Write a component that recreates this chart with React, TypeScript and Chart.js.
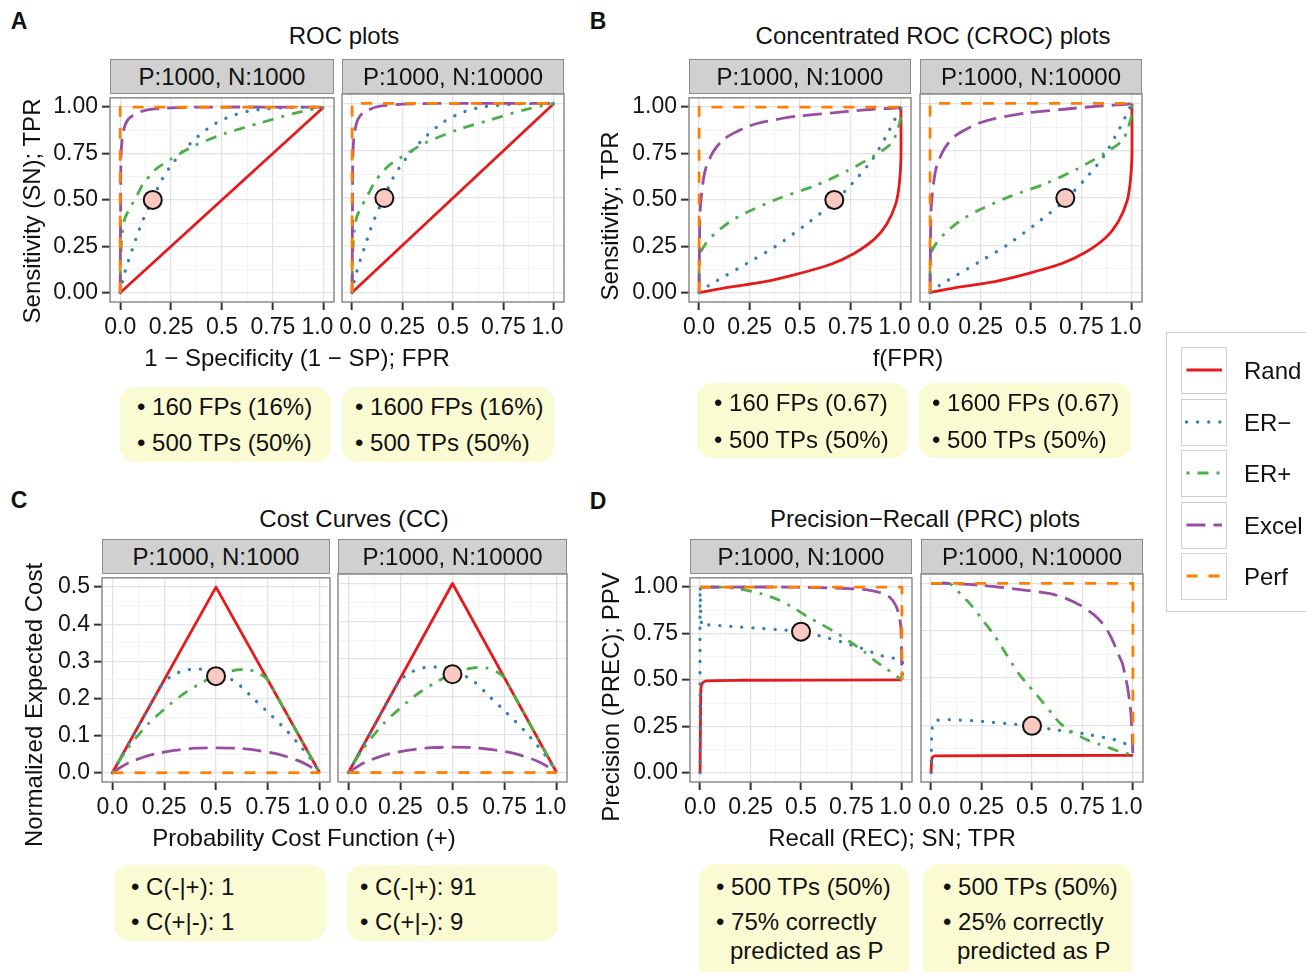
import React, { useEffect, useRef } from 'react';
import { Chart, registerables } from 'chart.js';

Chart.register(...registerables);

type Pt = [number, number];

const FONT = '"Liberation Sans", Arial, Helvetica, sans-serif';

// ---------------- series (legend) ----------------
const seriesNames = ['Rand', 'ER\u2212', 'ER+', 'Excel', 'Perf'];
const seriesColors = ['#e41a1c', '#377eb8', '#4daf4a', '#984ea3', '#ff7f00'];
const seriesDash: number[][] = [[], [0.1, 11], [3, 8, 11, 8], [19, 8], [11, 11]];

// ---------------- ticks ----------------
const unitTicks = [0, 0.25, 0.5, 0.75, 1];
const unitMinor = [0.125, 0.375, 0.625, 0.875];
const xTickLabelsLeft = ['0.0', '0.25', '0.5', '0.75', '1.0  '];
const xTickLabelsRight = [' 0.0', '0.25', '0.5', '0.75', '1.0  '];
const yTickLabels = ['0.00', '0.25', '0.50', '0.75', '1.00'];
const costTicks = [0, 0.1, 0.2, 0.3, 0.4, 0.5];
const costMinor = [0.05, 0.15, 0.25, 0.35, 0.45];
const costTickLabels = ['0.0', '0.1', '0.2', '0.3', '0.4', '0.5'];

// ---------------- A: ROC ----------------
const rocRand: Pt[] = [[0, 0], [1, 1]];
const rocErMinus: Pt[] = [[0, 0], [0.015, 0.08], [0.04, 0.17], [0.065, 0.25], [0.09, 0.33], [0.115, 0.4], [0.14, 0.46], [0.17, 0.53], [0.2, 0.6], [0.24, 0.67], [0.29, 0.74], [0.36, 0.82], [0.45, 0.9], [0.54, 0.95], [0.64, 0.98], [0.8, 0.997], [1, 1]];
const rocErPlus: Pt[] = [[0, 0], [0.003, 0.2], [0.01, 0.32], [0.023, 0.4], [0.045, 0.45], [0.065, 0.49], [0.09, 0.54], [0.114, 0.59], [0.15, 0.635], [0.18, 0.67], [0.25, 0.72], [0.36, 0.79], [0.52, 0.86], [0.69, 0.915], [0.85, 0.965], [1, 1]];
const rocExcel: Pt[] = [[0, 0], [0.002, 0.45], [0.004, 0.73], [0.01, 0.83], [0.023, 0.9], [0.04, 0.935], [0.056, 0.95], [0.08, 0.965], [0.114, 0.98], [0.17, 0.99], [0.25, 0.996], [0.4, 1], [1, 1]];
const rocPerf: Pt[] = [[0, 0], [0, 1], [1, 1]];
const rocPoint: Pt = [0.16, 0.5];

// ---------------- B: CROC ----------------
const crocRand: Pt[] = [[0, 0], [0.15, 0.03], [0.32, 0.058], [0.48, 0.099], [0.65, 0.152], [0.77, 0.213], [0.87, 0.29], [0.93, 0.37], [0.975, 0.48], [0.992, 0.585], [1, 0.72], [1, 1]];
const crocErMinus: Pt[] = [[0, 0], [0.05, 0.04], [0.24, 0.16], [0.38, 0.25], [0.52, 0.36], [0.65, 0.47], [0.76, 0.59], [0.86, 0.72], [0.94, 0.87], [1, 1]];
const crocErPlus: Pt[] = [[0, 0], [0.003, 0.2], [0.03, 0.26], [0.08, 0.32], [0.15, 0.38], [0.23, 0.43], [0.4, 0.51], [0.57, 0.575], [0.73, 0.654], [0.87, 0.74], [0.95, 0.8], [0.975, 0.85], [1, 0.945], [1, 1]];
const crocExcel: Pt[] = [[0, 0], [0.005, 0.44], [0.02, 0.6], [0.033, 0.67], [0.06, 0.74], [0.083, 0.78], [0.12, 0.825], [0.167, 0.857], [0.24, 0.895], [0.32, 0.92], [0.48, 0.95], [0.65, 0.968], [0.82, 0.985], [0.97, 0.995], [1, 1]];
const crocPerf: Pt[] = [[0, 0], [0, 1], [1, 1]];
const crocPoint: Pt = [0.67, 0.5];

// ---------------- C: Cost curves ----------------
const ccRand: Pt[] = [[0, 0], [0.5, 0.5], [1, 0]];
const ccErMinus: Pt[] = [[0, 0], [0.1, 0.1], [0.2, 0.2], [0.25, 0.245], [0.3, 0.265], [0.35, 0.276], [0.42, 0.279], [0.5, 0.272], [0.6, 0.242], [0.68, 0.2], [0.76, 0.158], [0.84, 0.114], [0.91, 0.07], [0.96, 0.035], [1, 0]];
const ccErPlus: Pt[] = [[0, 0], [0.066, 0.06], [0.17, 0.13], [0.28, 0.185], [0.35, 0.215], [0.43, 0.242], [0.5, 0.262], [0.6, 0.277], [0.66, 0.277], [0.71, 0.267], [0.75, 0.25], [0.8, 0.2], [0.9, 0.1], [1, 0]];
const ccExcel: Pt[] = [[0, 0], [0.05, 0.018], [0.1, 0.032], [0.2, 0.05], [0.3, 0.06], [0.4, 0.066], [0.5, 0.067], [0.6, 0.066], [0.7, 0.06], [0.8, 0.05], [0.9, 0.032], [0.95, 0.018], [1, 0]];
const ccPerf: Pt[] = [[0, 0], [1, 0]];
const ccPoint: Pt = [0.5, 0.26];

// ---------------- D: PRC ----------------
const prcRandBal: Pt[] = [[0, 0], [0.002, 0.3], [0.004, 0.45], [0.01, 0.48], [0.03, 0.495], [0.2, 0.498], [1, 0.5]];
const prcErMinusBal: Pt[] = [[0, 0], [0, 1], [0.004, 0.85], [0.01, 0.79], [0.02, 0.8], [0.05, 0.795], [0.1, 0.792], [0.2, 0.785], [0.3, 0.778], [0.4, 0.77], [0.5, 0.76], [0.6, 0.735], [0.7, 0.705], [0.8, 0.67], [0.9, 0.63], [1, 0.6], [1, 0.5]];
const prcErPlusBal: Pt[] = [[0, 1], [0.1, 1], [0.195, 0.99], [0.3, 0.965], [0.39, 0.93], [0.46, 0.89], [0.533, 0.84], [0.6, 0.8], [0.675, 0.754], [0.75, 0.7], [0.817, 0.648], [0.87, 0.6], [0.923, 0.56], [1, 0.5]];
const prcExcelBal: Pt[] = [[0, 1], [0.46, 1], [0.7, 0.993], [0.82, 0.986], [0.9, 0.968], [0.94, 0.945], [0.97, 0.9], [0.985, 0.85], [0.995, 0.78], [1, 0.5]];
const prcPerfBal: Pt[] = [[0, 1], [1, 1], [1, 0.5]];
const prcPointBal: Pt = [0.5, 0.76];

const prcRandImb: Pt[] = [[0, 0], [0.002, 0.05], [0.006, 0.08], [0.02, 0.088], [1, 0.091]];
const prcErMinusImb: Pt[] = [[0, 0], [0, 0.016], [0.003, 0.19], [0.01, 0.26], [0.025, 0.275], [0.09, 0.28], [0.257, 0.27], [0.423, 0.254], [0.5, 0.247], [0.59, 0.23], [0.757, 0.205], [0.907, 0.174], [0.99, 0.14], [1, 0.13]];
const prcErPlusImb: Pt[] = [[0, 1], [0.09, 1], [0.15, 0.94], [0.207, 0.875], [0.26, 0.8], [0.307, 0.735], [0.35, 0.665], [0.39, 0.595], [0.43, 0.53], [0.473, 0.472], [0.52, 0.415], [0.557, 0.367], [0.6, 0.31], [0.64, 0.26], [0.69, 0.22], [0.74, 0.19], [0.79, 0.165], [0.84, 0.147], [0.89, 0.128], [0.932, 0.112], [1, 0.091]];
const prcExcelImb: Pt[] = [[0, 1], [0.09, 1], [0.25, 0.99], [0.42, 0.97], [0.59, 0.946], [0.67, 0.92], [0.74, 0.884], [0.8, 0.84], [0.84, 0.8], [0.88, 0.74], [0.907, 0.68], [0.93, 0.62], [0.948, 0.577], [0.962, 0.51], [0.973, 0.454], [0.983, 0.38], [0.99, 0.314], [0.996, 0.2], [1, 0.091]];
const prcPerfImb: Pt[] = [[0, 1], [1, 1], [1, 0.091]];
const prcPointImb: Pt = [0.5, 0.247];

// ---------------- layout constants ----------------
const YW = 100;
const PADL = 30;
const PADR = 30;
const PADT = 14;
const XH = 44;

const panelBorder = {
  id: 'panelBorder',
  afterDraw(chart: any) {
    const { ctx, chartArea: a } = chart;
    ctx.save();
    ctx.strokeStyle = '#8c8c8c';
    ctx.lineWidth = 1.5;
    ctx.strokeRect(a.left, a.top, a.right - a.left, a.bottom - a.top);
    ctx.restore();
  },
};

interface FacetProps {
  l: number; t: number; r: number; b: number;
  showY: boolean;
  series: Pt[][];
  tension: number[];
  point: Pt;
  xT: number[]; xMinor: number[];
  yT: number[]; yMinor: number[]; yL: string[];
  yMin: number; yMax: number;
}

function Facet(p: FacetProps) {
  const ref = useRef<HTMLCanvasElement>(null);
  const w = p.r - p.l;
  const h = p.b - p.t;
  const leftExtra = p.showY ? YW : PADL;
  const cw = w + leftExtra + PADR;
  const ch = h + PADT + XH;
  const xL = p.showY ? xTickLabelsLeft : xTickLabelsRight;

  useEffect(() => {
    const canvas = ref.current;
    if (!canvas) return;
    const xAll = [...p.xT, ...p.xMinor].sort((a, b) => a - b);
    const yAll = [...p.yT, ...p.yMinor].sort((a, b) => a - b);
    const majX = (v: number) => p.xT.indexOf(v) >= 0;
    const majY = (v: number) => p.yT.indexOf(v) >= 0;

    const datasets: any[] = [
      {
        label: 'point',
        data: [{ x: p.point[0], y: p.point[1] }],
        showLine: false,
        pointRadius: 9,
        pointHoverRadius: 9,
        pointBackgroundColor: '#fac8c3',
        pointBorderColor: '#111',
        pointBorderWidth: 2,
      },
    ];
    for (let i = 4; i >= 0; i--) {
      datasets.push({
        label: seriesNames[i],
        data: p.series[i].map(([x, y]) => ({ x, y })),
        showLine: true,
        borderColor: seriesColors[i],
        borderWidth: i === 1 ? 3.3 : 2.8,
        borderDash: seriesDash[i],
        borderCapStyle: i === 1 ? 'round' : 'butt',
        borderJoinStyle: 'round',
        pointRadius: 0,
        pointHoverRadius: 0,
        tension: p.tension[i],
        fill: false,
      });
    }

    const gridCommon = (maj: (v: number) => boolean) => ({
      color: (c: any) => (c.tick && maj(c.tick.value) ? '#e3e3e3' : '#f2f2f2'),
      lineWidth: (c: any) => (c.tick && maj(c.tick.value) ? 1.3 : 0.9),
      tickColor: (c: any) => (c.tick && maj(c.tick.value) ? '#333333' : 'rgba(0,0,0,0)'),
      tickWidth: (c: any) => (c.tick && maj(c.tick.value) ? 2 : 0),
    });

    const chart = new Chart(canvas, {
      type: 'scatter',
      data: { datasets },
      options: {
        animation: false,
        responsive: false,
        events: [],
        layout: { padding: { left: p.showY ? 0 : PADL, right: PADR, top: PADT, bottom: 0 } },
        plugins: { legend: { display: false }, tooltip: { enabled: false } },
        scales: {
          x: {
            type: 'linear',
            min: -0.05,
            max: 1.05,
            afterBuildTicks: (s: any) => { s.ticks = xAll.map((v) => ({ value: v })); },
            afterFit: (s: any) => { s.height = XH; },
            ticks: {
              autoSkip: false,
              maxRotation: 0,
              minRotation: 0,
              padding: 4,
              color: '#141414',
              font: { size: 23, family: FONT },
              callback: (v: any) => { const i = p.xT.indexOf(Number(v)); return i >= 0 ? xL[i] : ''; },
            },
            grid: { ...gridCommon(majX), drawTicks: true, tickLength: 8 },
            border: { display: false },
          },
          y: {
            type: 'linear',
            min: p.yMin,
            max: p.yMax,
            afterBuildTicks: (s: any) => { s.ticks = yAll.map((v) => ({ value: v })); },
            afterFit: (s: any) => { s.width = p.showY ? YW : 0; },
            ticks: {
              display: p.showY,
              autoSkip: false,
              padding: 4,
              color: '#141414',
              font: { size: 23, family: FONT },
              callback: (v: any) => { const i = p.yT.indexOf(Number(v)); return i >= 0 ? p.yL[i] : ''; },
            },
            grid: { ...gridCommon(majY), drawTicks: p.showY, tickLength: p.showY ? 8 : 0 },
            border: { display: false },
          },
        },
      } as any,
      plugins: [panelBorder],
    });
    return () => chart.destroy();
  }, []);

  return (
    <canvas
      ref={ref}
      width={cw}
      height={ch}
      style={{ position: 'absolute', left: p.l - leftExtra, top: p.t - PADT, width: cw, height: ch }}
    />
  );
}

function Txt(props: { x: number; y: number; text: string; size?: number; anchor?: 'center' | 'left'; rotate?: boolean; bold?: boolean }) {
  const { x, y, text, size = 24, anchor = 'center', rotate = false, bold = false } = props;
  let transform = anchor === 'center' ? 'translate(-50%, -50%)' : 'translate(0, -50%)';
  if (rotate) transform += ' rotate(-90deg)';
  return (
    <div
      style={{
        position: 'absolute', left: x, top: y, transform, whiteSpace: 'nowrap',
        fontFamily: FONT, fontSize: size, lineHeight: 1, color: '#111', fontWeight: bold ? 'bold' : 'normal',
      }}
    >
      {text}
    </div>
  );
}

function Strip(props: { l: number; r: number; t: number; text: string }) {
  const { l, r, t, text } = props;
  return (
    <div
      style={{
        position: 'absolute', left: l, top: t - 35, width: r - l, height: 35, boxSizing: 'border-box',
        background: '#d0d0d0', border: '1.5px solid #8c8c8c', display: 'flex', alignItems: 'center',
        justifyContent: 'center', fontFamily: FONT, fontSize: 24, color: '#111', lineHeight: 1,
      }}
    >
      {text}
    </div>
  );
}

function NoteBox(props: { l: number; t: number; r: number; b: number }) {
  const { l, t, r, b } = props;
  return (
    <div style={{ position: 'absolute', left: l, top: t, width: r - l, height: b - t, background: '#fbfbd3', borderRadius: 15 }} />
  );
}

const FACET_A_Y = { t: 94, b: 302 };
const FACET_C_Y = { t: 574, b: 782 };

export default function App() {
  const rocSeries = [rocRand, rocErMinus, rocErPlus, rocExcel, rocPerf];
  const crocSeries = [crocRand, crocErMinus, crocErPlus, crocExcel, crocPerf];
  const ccSeries = [ccRand, ccErMinus, ccErPlus, ccExcel, ccPerf];
  const prcBal = [prcRandBal, prcErMinusBal, prcErPlusBal, prcExcelBal, prcPerfBal];
  const prcImb = [prcRandImb, prcErMinusImb, prcErPlusImb, prcExcelImb, prcPerfImb];
  const unitY = { yT: unitTicks, yMinor: unitMinor, yL: yTickLabels, yMin: -0.05, yMax: 1.05 };
  const unitX = { xT: unitTicks, xMinor: unitMinor };
  const costY = { yT: costTicks, yMinor: costMinor, yL: costTickLabels, yMin: -0.025, yMax: 0.525 };

  const legendTop = 347;
  const legendStep = 51.6;

  return (
    <div style={{ position: 'absolute', left: 0, top: 0, width: 1306, height: 972, overflow: 'hidden', background: '#fff', fontFamily: FONT }}>
      {/* Facet charts */}
      <Facet l={110} r={334} {...FACET_A_Y} showY series={rocSeries} tension={[0, 0.25, 0.25, 0.25, 0]} point={rocPoint} {...unitX} {...unitY} />
      <Facet l={342} r={564} {...FACET_A_Y} showY={false} series={rocSeries} tension={[0, 0.25, 0.25, 0.25, 0]} point={rocPoint} {...unitX} {...unitY} />
      <Facet l={689} r={911} {...FACET_A_Y} showY series={crocSeries} tension={[0.25, 0.25, 0.25, 0.25, 0]} point={crocPoint} {...unitX} {...unitY} />
      <Facet l={920} r={1142} {...FACET_A_Y} showY={false} series={crocSeries} tension={[0.25, 0.25, 0.25, 0.25, 0]} point={crocPoint} {...unitX} {...unitY} />
      <Facet l={102} r={330} {...FACET_C_Y} showY series={ccSeries} tension={[0, 0.25, 0.25, 0.25, 0]} point={ccPoint} {...unitX} {...costY} />
      <Facet l={338} r={567} {...FACET_C_Y} showY={false} series={ccSeries} tension={[0, 0.25, 0.25, 0.25, 0]} point={ccPoint} {...unitX} {...costY} />
      <Facet l={690} r={912} {...FACET_C_Y} showY series={prcBal} tension={[0.2, 0.25, 0.25, 0.25, 0]} point={prcPointBal} {...unitX} {...unitY} />
      <Facet l={921} r={1143} {...FACET_C_Y} showY={false} series={prcImb} tension={[0.2, 0.25, 0.25, 0.25, 0]} point={prcPointImb} {...unitX} {...unitY} />

      {/* Strips */}
      <Strip l={110} r={334} t={94} text="P:1000, N:1000" />
      <Strip l={342} r={564} t={94} text="P:1000, N:10000" />
      <Strip l={689} r={911} t={94} text="P:1000, N:1000" />
      <Strip l={920} r={1142} t={94} text="P:1000, N:10000" />
      <Strip l={102} r={330} t={574} text="P:1000, N:1000" />
      <Strip l={338} r={567} t={574} text="P:1000, N:10000" />
      <Strip l={690} r={912} t={574} text="P:1000, N:1000" />
      <Strip l={921} r={1143} t={574} text="P:1000, N:10000" />

      {/* Panel letters */}
      <Txt x={19} y={21} text="A" size={23} bold />
      <Txt x={598} y={21} text="B" size={23} bold />
      <Txt x={19} y={500} text="C" size={23} bold />
      <Txt x={598} y={501} text="D" size={23} bold />

      {/* Titles */}
      <Txt x={344} y={36} text="ROC plots" />
      <Txt x={933} y={36} text="Concentrated ROC (CROC) plots" />
      <Txt x={354} y={519} text="Cost Curves (CC)" />
      <Txt x={925} y={519} text={'Precision\u2212Recall (PRC) plots'} />

      {/* Axis titles */}
      <Txt x={297} y={358} text={'1 \u2212 Specificity (1 \u2212 SP); FPR'} />
      <Txt x={908} y={358} text="f(FPR)" />
      <Txt x={304} y={838} text="Probability Cost Function (+)" />
      <Txt x={892} y={838} text="Recall (REC); SN; TPR" />
      <Txt x={32} y={211} text="Sensitivity (SN); TPR" rotate />
      <Txt x={610} y={216} text="Sensitivity; TPR" rotate />
      <Txt x={34} y={705} text="Normalized Expected Cost" rotate />
      <Txt x={611} y={697} text="Precision (PREC); PPV" rotate />

      {/* Note boxes */}
      <NoteBox l={120} t={387} r={331} b={462} />
      <NoteBox l={342} t={387} r={554} b={462} />
      <Txt x={137} y={407} text={'\u2022 160 FPs (16%)'} anchor="left" />
      <Txt x={137} y={443} text={'\u2022 500 TPs (50%)'} anchor="left" />
      <Txt x={355} y={407} text={'\u2022 1600 FPs (16%)'} anchor="left" />
      <Txt x={355} y={443} text={'\u2022 500 TPs (50%)'} anchor="left" />

      <NoteBox l={697} t={383} r={908} b={458} />
      <NoteBox l={919} t={383} r={1131} b={458} />
      <Txt x={714} y={403} text={'\u2022 160 FPs (0.67)'} anchor="left" />
      <Txt x={714} y={440} text={'\u2022 500 TPs (50%)'} anchor="left" />
      <Txt x={932} y={403} text={'\u2022 1600 FPs (0.67)'} anchor="left" />
      <Txt x={932} y={440} text={'\u2022 500 TPs (50%)'} anchor="left" />

      <NoteBox l={114} t={865} r={326} b={941} />
      <NoteBox l={347} t={865} r={558} b={941} />
      <Txt x={131} y={887} text={'\u2022 C(-|+): 1'} anchor="left" />
      <Txt x={131} y={922} text={'\u2022 C(+|-): 1'} anchor="left" />
      <Txt x={360} y={887} text={'\u2022 C(-|+): 91'} anchor="left" />
      <Txt x={360} y={922} text={'\u2022 C(+|-): 9'} anchor="left" />

      <NoteBox l={699} t={864} r={909} b={990} />
      <NoteBox l={923} t={864} r={1132} b={990} />
      <Txt x={716} y={887} text={'\u2022 500 TPs (50%)'} anchor="left" />
      <Txt x={716} y={922} text={'\u2022 75% correctly'} anchor="left" />
      <Txt x={730} y={951} text="predicted as P" anchor="left" />
      <Txt x={943} y={887} text={'\u2022 500 TPs (50%)'} anchor="left" />
      <Txt x={943} y={922} text={'\u2022 25% correctly'} anchor="left" />
      <Txt x={957} y={951} text="predicted as P" anchor="left" />

      {/* Legend */}
      <div style={{ position: 'absolute', left: 1166, top: 332, width: 140, height: 280, boxSizing: 'border-box', border: '1.5px solid #cdcdcd', borderRight: 'none' }} />
      {seriesNames.map((name, i) => {
        const top = legendTop + i * legendStep;
        return (
          <React.Fragment key={name}>
            <div style={{ position: 'absolute', left: 1181, top, width: 46, height: 47, boxSizing: 'border-box', border: '1.5px solid #d2d2d2', background: '#fff' }}>
              <svg width={43} height={44} style={{ position: 'absolute', left: 0, top: 0 }}>
                <line
                  x1={4.5}
                  y1={22}
                  x2={40}
                  y2={22}
                  stroke={seriesColors[i]}
                  strokeWidth={i === 1 ? 3.3 : 2.8}
                  strokeDasharray={seriesDash[i].length ? seriesDash[i].join(' ') : undefined}
                  strokeLinecap={i === 1 ? 'round' : 'butt'}
                />
              </svg>
            </div>
            <Txt x={1244} y={top + 24} text={name} anchor="left" />
          </React.Fragment>
        );
      })}
    </div>
  );
}
